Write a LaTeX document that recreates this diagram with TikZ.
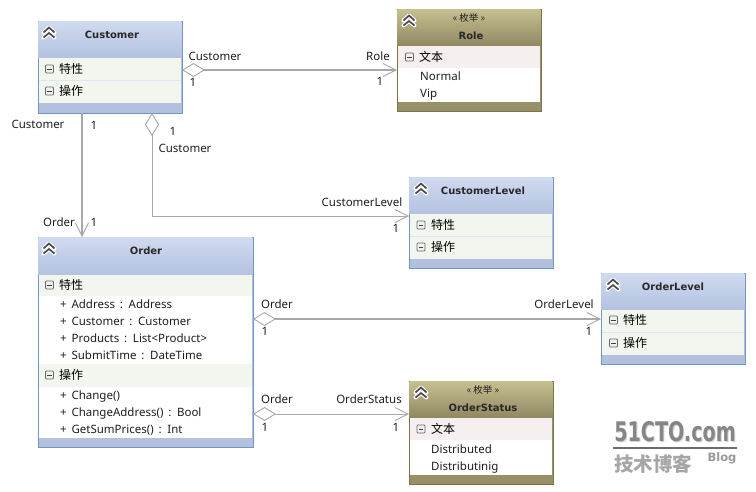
\documentclass[tikz,border=0pt]{standalone}
\usepackage{fontspec}
\setmainfont[WordSpace=1.6]{Noto Sans}
\newfontfamily\cjk{Noto Sans CJK SC}
\newfontfamily\heavy{DejaVu Sans}
\usetikzlibrary{arrows.meta,calc}
\definecolor{bluebd}{HTML}{6F97C6}
\definecolor{bluetop}{HTML}{D0DAEF}
\definecolor{bluebot}{HTML}{B3C2E0}
\definecolor{bluefoot}{HTML}{B3C1DF}
\definecolor{bluecomp}{HTML}{F3F6EE}
\definecolor{bluesep}{HTML}{DDE6F1}
\definecolor{olivebd}{HTML}{7D7448}
\definecolor{olivetop}{HTML}{C6BF90}
\definecolor{olivebot}{HTML}{8F8761}
\definecolor{olivefoot}{HTML}{979069}
\definecolor{olivecomp}{HTML}{F5EFF0}
\definecolor{conn}{HTML}{A8A8A8}
\definecolor{ink}{HTML}{1E1E1E}
\tikzset{
  x=1pt,y=-1pt,
  blueclass/.style={draw=bluebd,line width=1pt,fill=bluefoot,anchor=north west,inner sep=0pt,outer sep=0pt},
  oliveclass/.style={draw=olivebd,line width=1pt,fill=olivefoot,anchor=north west,inner sep=0pt,outer sep=0pt},
  bluehead/.style={top color=bluetop,bottom color=bluebot},
  olivehead/.style={top color=olivetop,bottom color=olivebot},
  txt/.style={font=\fontsize{11.5}{13}\selectfont,text=ink,inner sep=0pt,text height=10pt,text depth=2pt},
  member/.style={txt,anchor=west},
  cjklabel/.style={font=\cjk\fontsize{12}{14}\selectfont,text=black,inner sep=0pt,anchor=west},
  titletxt/.style={font=\heavy\bfseries\fontsize{10}{12}\selectfont,text=ink!90!gray,inner sep=0pt},
  stereo/.style={font=\cjk\fontsize{9.5}{10}\selectfont,text=ink,inner sep=0pt},
  assoc/.style={draw=conn,line width=1.1pt},
  agg/.style={assoc,{Diamond[fill=white,length=23pt,width=14pt,line width=.9pt]}-{Straight Barb[length=13pt,width=13pt,line width=.9pt]}},
  plainarrow/.style={assoc,-{Straight Barb[length=13pt,width=13pt,line width=.9pt]}},
  connlabel/.style={txt},
  wmark/.style={inner sep=0pt,font=\heavy\bfseries\fontsize{27}{29}\selectfont,xscale=.71},
}
% head region: x0 y0 x1 y1 style
\newcommand\headfill[5]{\fill[#5] (#1,#2) rectangle (#3,#4);}
% compartment band: x0 y0 x1 y1 colour
\newcommand\band[5]{\fill[#5] (#1,#2) rectangle (#3,#4);}
% minus box centred at x,y
\newcommand\minusbox[2]{%
  \draw[draw=gray!80!black,fill=gray!12,line width=.7pt,rounded corners=.8pt] (#1-4,#2-4) rectangle (#1+4,#2+4);
  \draw[draw=black!75,line width=1pt] (#1-2.2,#2) -- (#1+2.2,#2);}
% chevrons centred at x,y
\newcommand\chev[2]{%
  \draw[white,line width=4pt,line join=round,line cap=round] (#1-5.5,#2-.5) -- (#1,#2-5.5) -- (#1+5.5,#2-.5) (#1-5.5,#2+4.5) -- (#1,#2) -- (#1+5.5,#2+4.5);
  \draw[black!70,line width=1.7pt] (#1-5.5,#2-.5) -- (#1,#2-5.5) -- (#1+5.5,#2-.5) (#1-5.5,#2+4.5) -- (#1,#2) -- (#1+5.5,#2+4.5);}
\begin{document}
\begin{tikzpicture}
\useasboundingbox[fill=white] (0,0) rectangle (756,491);

% Customer
\node[blueclass,minimum width=144pt,minimum height=92pt] (cust) at (38,21) {};
\headfill{38.6}{21.6}{181.4}{58}{bluehead}
\band{39}{58}{181}{79.5}{bluecomp}\band{39}{79.5}{181}{80.8}{bluesep}\band{39}{80.8}{181}{103}{bluecomp}
\node[titletxt] (custT) at (112,35) {Customer};
\chev{49}{33}
\minusbox{49.5}{69}\node[cjklabel] (custA) at (59,69) {特性};
\minusbox{49.5}{91}\node[cjklabel] (custB) at (59,91) {操作};

% Role
\node[oliveclass,minimum width=144pt,minimum height=102pt] (role) at (397,9) {};
\headfill{397.6}{9.6}{540.4}{46}{olivehead}
\band{398}{46}{540}{68}{olivecomp}\band{398}{68}{540}{102}{white}
\node[stereo] (roleS) at (469,18) {«\kern2pt 枚举\kern2pt»};
\node[titletxt] (roleT) at (471,36) {Role};
\chev{409}{21}
\minusbox{409.5}{57}\node[cjklabel] (roleA) at (419,57) {文本};
\node[member] (roleN) at (420,76.5) {Normal};
\node[member] (roleV) at (420,93.5) {Vip};

% CustomerLevel
\node[blueclass,minimum width=144pt,minimum height=91pt] (cl) at (409,177) {};
\headfill{409.6}{177.6}{552.4}{214}{bluehead}
\band{410}{214}{552}{235.5}{bluecomp}\band{410}{235.5}{552}{236.8}{bluesep}\band{410}{236.8}{552}{259}{bluecomp}
\node[titletxt] (clT) at (483,191) {CustomerLevel};
\chev{421}{189}
\minusbox{421}{225}\node[cjklabel] (clA) at (431,225) {特性};
\minusbox{421}{247}\node[cjklabel] (clB) at (431,247) {操作};

% OrderLevel
\node[blueclass,minimum width=144pt,minimum height=91pt] (ol) at (601,273) {};
\headfill{601.6}{273.6}{744.4}{310}{bluehead}
\band{602}{310}{744}{332}{bluecomp}\band{602}{332}{744}{333.3}{bluesep}\band{602}{333.3}{744}{355}{bluecomp}
\node[titletxt] (olT) at (673,287) {OrderLevel};
\chev{613}{285}
\minusbox{613.5}{320}\node[cjklabel] (olA) at (623,320) {特性};
\minusbox{613.5}{343}\node[cjklabel] (olB) at (623,343) {操作};

% Order
\node[blueclass,minimum width=215pt,minimum height=210pt] (order) at (38,237) {};
\headfill{38.6}{237.6}{252.4}{275}{bluehead}
\band{39}{275}{252}{296}{bluecomp}\band{39}{296}{252}{364}{white}
\band{39}{364}{252}{387}{bluecomp}\band{39}{387}{252}{438}{white}
\node[titletxt] (orderT) at (146,251) {Order};
\chev{49}{249}
\minusbox{49.5}{285}\node[cjklabel] (orderA) at (59,285) {特性};
\node[member] (o1) at (60,304.5) {+ Address : Address};
\node[member] (o2) at (60,321.5) {+ Customer : Customer};
\node[member] (o3) at (60,338.5) {+ Products : List<Product>};
\node[member] (o4) at (60,355.5) {+ SubmitTime : DateTime};
\minusbox{49.5}{375}\node[cjklabel] (orderB) at (59,375) {操作};
\node[member] (o5) at (60,395.5) {+ Change()};
\node[member] (o6) at (60,412.5) {+ ChangeAddress() : Bool};
\node[member] (o7) at (60,429.5) {+ GetSumPrices() : Int};

% OrderStatus
\node[oliveclass,minimum width=144pt,minimum height=103pt] (os) at (409,381) {};
\headfill{409.6}{381.6}{552.4}{418}{olivehead}
\band{410}{418}{552}{440}{olivecomp}\band{410}{440}{552}{475}{white}
\node[stereo] (osS) at (483,390) {«\kern2pt 枚举\kern2pt»};
\node[titletxt] (osT) at (483,408) {OrderStatus};
\chev{421}{393}
\minusbox{421}{429}\node[cjklabel] (osA) at (431,429) {文本};
\node[member] (os1) at (431,449) {Distributed};
\node[member] (os2) at (431,466) {Distributinig};

% connectors
\draw[agg] (cust.east |- 0,70) -- (role.west |- 0,70);
\draw[plainarrow] (cust.south -| 82,0) -- (order.north -| 82,0);
\draw[agg,line width=1pt] (cust.south -| 152,0) -- (152,216) -- (cl.west |- 0,216);
\draw[agg,line width=1.6pt] (order.east |- 0,319) -- (ol.west |- 0,319);
\draw[agg,line width=.9pt] (order.east |- 0,414) -- (os.west |- 0,414);

% connector labels
\node[connlabel] (l1) at (215,56.5) {Customer};
\node[connlabel] (l2) at (193,82.5) {1};
\node[connlabel] (l3) at (378,56.5) {Role};
\node[connlabel] (l4) at (380,81.5) {1};
\node[connlabel] (l5) at (38,124.5) {Customer};
\node[connlabel] (l6) at (94,125) {1};
\node[connlabel] (l7) at (59,222.5) {Order};
\node[connlabel] (l8) at (94,222.5) {1};
\node[connlabel] (l9) at (173,131) {1};
\node[connlabel] (l10) at (185,148.5) {Customer};
\node[connlabel] (l11) at (362,202) {CustomerLevel};
\node[connlabel] (l12) at (396,228.5) {1};
\node[connlabel] (l13) at (277,304.5) {Order};
\node[connlabel] (l14) at (265,331.5) {1};
\node[connlabel] (l15) at (564,304.5) {OrderLevel};
\node[connlabel] (l16) at (589,331.5) {1};
\node[connlabel] (l17) at (277,399.5) {Order};
\node[connlabel] (l18) at (265,427.5) {1};
\node[connlabel] (l19) at (369,399.5) {OrderStatus};
\node[connlabel] (l20) at (396,427.5) {1};

% watermark
\node[wmark,text=gray!35] (wmS) at (676,433) {51CTO.com};
\node[wmark,text=gray!95] (wm) at (675,432) {51CTO.com};
\fill[gray!85!black] (613,447.2) rectangle (737,449.2);
\node[inner sep=0pt,text=gray!70,font=\cjk\bfseries\fontsize{19.5}{21}\selectfont] (wmC) at (653,464) {技术博客};
\node[inner sep=0pt,text=gray!80,font=\heavy\bfseries\fontsize{11.5}{13}\selectfont] (wmB) at (722,458) {Blog};
\end{tikzpicture}
\end{document}
